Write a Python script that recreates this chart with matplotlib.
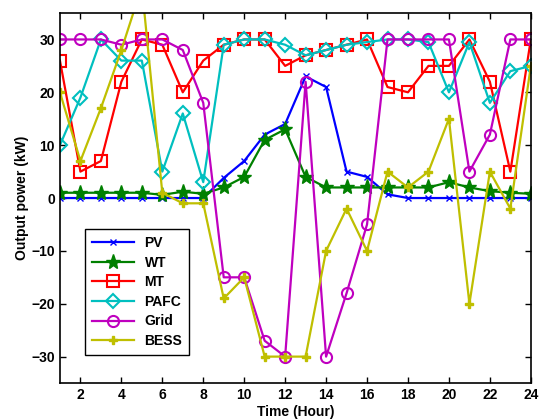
import numpy as np
import matplotlib
matplotlib.use("Agg")
import matplotlib.pyplot as plt

plt.rcParams['font.family'] = ['Liberation Sans', 'DejaVu Sans']
plt.rcParams['font.weight'] = 'bold'

hours = np.arange(1, 25)
pv = [0, 0, 0, 0, 0, 0, 0, 0, 3.8, 7, 12, 14, 23, 21, 5, 4, 0.7, 0, 0, 0, 0, 0, 0, 0]
wt = [1, 1, 1, 1, 1, 0.6, 1.2, 0.8, 2, 4, 11, 13, 4, 2, 2, 2, 2, 2, 2, 3, 2, 1.3, 1, 0.8]
mt = [26, 5, 7, 22, 30, 29, 20, 26, 29, 30, 30, 25, 27, 28, 29, 30, 21, 20, 25, 25, 30, 22, 5, 30]
pafc = [10, 19, 30, 26, 26, 5, 16, 3, 29, 30, 30, 29, 27, 28, 29, 29.5, 30, 30, 29.5, 20, 29.5, 18, 24, 25]
grid = [30, 30, 30, 29, 30, 30, 28, 18, -15, -15, -27, -30, 22, -30, -18, -5, 30, 30, 30, 30, 5, 12, 30, 30]
bess = [20, 7, 17, 28, 40, 1, -1, -1, -19, -15, -30, -30, -30, -10, -2, -10, 5, 2, 5, 15, -20, 5, -2, 25]

fig = plt.figure(figsize=(5.4, 4.2), dpi=100)
ax = fig.add_axes([0.111, 0.088, 0.872, 0.881])

lw = 1.6
ax.plot(hours, pv, color=(0, 0, 1), marker='x', markersize=4, lw=lw, label='PV')
ax.plot(hours, wt, color=(0, 0.5, 0), marker='*', markersize=11, lw=lw, label='WT')
ax.plot(hours, mt, color=(1, 0, 0), marker='s', markersize=8, mfc='none', mew=1.5, lw=lw, label='MT')
ax.plot(hours, pafc, color=(0, 0.75, 0.75), marker='D', markersize=7, mfc='none', mew=1.5, lw=lw, label='PAFC')
ax.plot(hours, grid, color=(0.75, 0, 0.75), marker='o', markersize=8, mfc='none', mew=1.5, lw=lw, label='Grid')
ax.plot(hours, bess, color=(0.75, 0.75, 0), marker='P', markersize=6, lw=lw, label='BESS')

ax.set_xlim(1, 24)
ax.set_ylim(-35, 35)
ax.set_xticks(np.arange(2, 25, 2))
ax.set_yticks(np.arange(-30, 31, 10))
ax.tick_params(direction='in', top=True, right=True, labelsize=10, width=1, length=4)
for s in ax.spines.values():
    s.set_linewidth(1.2)
ax.set_xlabel('Time (Hour)', fontsize=10, fontweight='bold', labelpad=2)
ax.set_ylabel('Output power (kW)', fontsize=10, fontweight='bold', labelpad=2)

leg = ax.legend(loc='lower left', bbox_to_anchor=(0.053, 0.076), borderaxespad=0,
                fancybox=False, edgecolor='black', fontsize=10, handlelength=3,
                borderpad=0.5, labelspacing=0.4, framealpha=1)
leg.get_frame().set_linewidth(1)

fig.savefig('out.png', dpi=100)
